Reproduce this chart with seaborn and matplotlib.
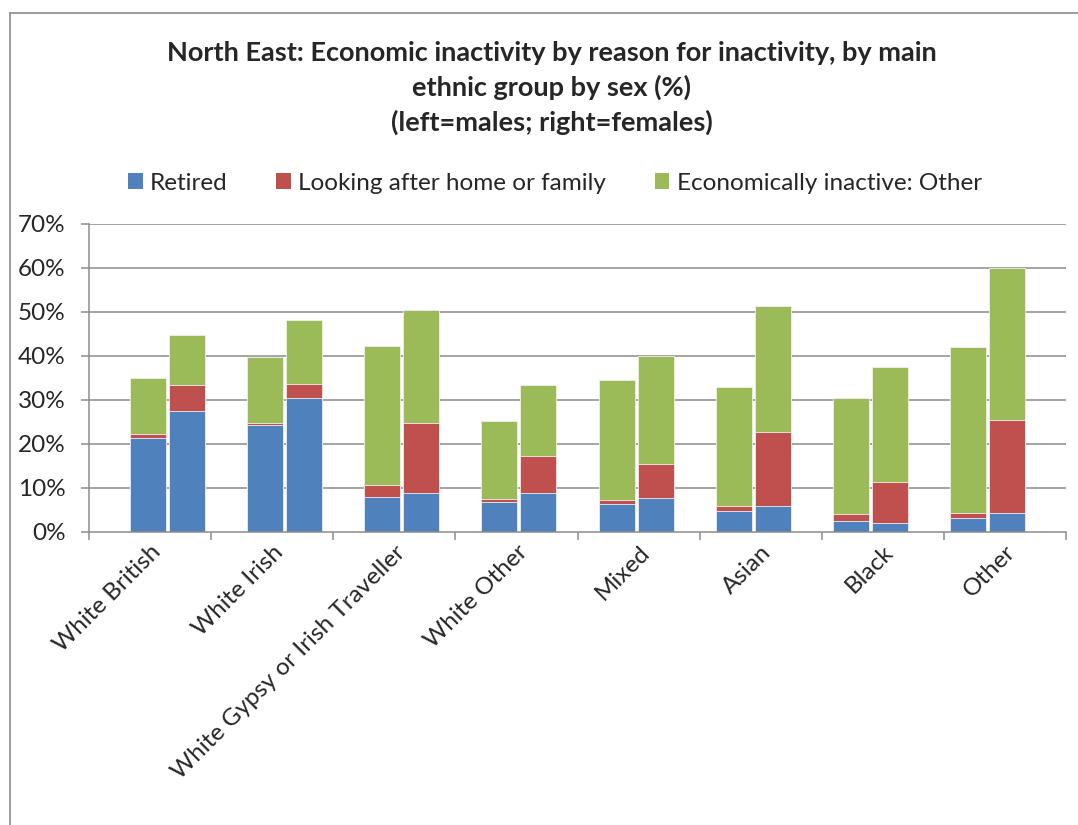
import numpy as np
import pandas as pd
import matplotlib
matplotlib.use("Agg")
import matplotlib.pyplot as plt
from matplotlib.patches import Patch
from matplotlib.lines import Line2D
import seaborn as sns

# Ethnic groups (x-axis categories)
groups = ["White British", "White Irish", "White Gypsy or Irish Traveller",
          "White Other", "Mixed", "Asian", "Black", "Other"]

# Percentages of the population economically inactive, by reason
retired_male = [21.2, 24.2, 8.0, 6.7, 6.2, 4.8, 2.4, 3.1]
retired_female = [27.5, 30.3, 8.9, 8.8, 7.7, 5.9, 2.0, 4.3]
looking_male = [0.9, 0.6, 2.7, 0.7, 0.9, 1.0, 1.6, 1.2]
looking_female = [5.8, 3.3, 15.7, 8.3, 7.7, 16.8, 9.2, 21.1]
other_male = [12.8, 15.0, 31.6, 17.8, 27.4, 27.2, 26.4, 37.7]
other_female = [11.4, 14.5, 25.9, 16.2, 24.6, 28.6, 26.2, 34.6]

series_names = ["Retired", "Looking after home or family",
                "Economically inactive: Other"]
colors = ["#4F81BD", "#C0504D", "#9BBB59"]

title = ("North East: Economic inactivity by reason for inactivity, by main\n"
         "ethnic group by sex (%)\n(left=males; right=females)")

# Each group occupies three slots: a spacer, the male bar, the female bar,
# with one trailing spacer at the end of the axis.
n = len(groups)
n_slots = 3 * n + 1
rows = []
for i in range(n):
    for sex, slot, r, l, o in (
        ("Male", 3 * i + 1, retired_male[i], looking_male[i], other_male[i]),
        ("Female", 3 * i + 2, retired_female[i], looking_female[i], other_female[i]),
    ):
        rows.append({"pos": slot + 0.5, "group": groups[i], "sex": sex,
                     "retired": r, "looking": l, "other": o})
df = pd.DataFrame(rows)
df["top_retired"] = df["retired"]
df["top_looking"] = df["retired"] + df["looking"]
df["top_other"] = df["retired"] + df["looking"] + df["other"]

sns.set_theme(style="white")
plt.rcParams["font.family"] = ["Lato", "DejaVu Sans"]

fig = plt.figure(figsize=(10.78, 8.25), dpi=100)
ax = fig.add_axes([89 / 1078, 1 - 531.7 / 825, (1066 - 89) / 1078, 308 / 825])

grid_color = "#8C8C8C"
for y in range(10, 80, 10):
    ax.axhline(y, color=grid_color, lw=1.1, zorder=0)

# Stacked columns drawn as overlapping cumulative totals
for col, color in zip(["top_other", "top_looking", "top_retired"],
                      colors[::-1]):
    sns.barplot(data=df, x="pos", y=col, native_scale=True, width=0.92,
                color=color, saturation=1, errorbar=None,
                edgecolor="#f0f0f0", linewidth=0.6, ax=ax, zorder=2)

ax.set_xlim(0, n_slots)
ax.set_ylim(0, 70)
ax.set_yticks(np.arange(0, 80, 10))
ax.set_yticklabels([f"{v}%" for v in range(0, 80, 10)], fontsize=17.5)

step = n_slots / n
ax.set_xticks(np.arange(n + 1) * step)
ax.set_xticklabels([])
ax.set_xticks((np.arange(n) + 0.5) * step, minor=True)
ax.set_xticklabels(groups, minor=True, rotation=45, ha="right",
                   rotation_mode="anchor", fontsize=17.5)
ax.tick_params(axis="x", which="major", length=6, width=1.1,
               color=grid_color, direction="out", bottom=True)
ax.tick_params(axis="x", which="minor", length=0, pad=7)
ax.tick_params(axis="y", length=6, width=1.1, color=grid_color,
               direction="out", left=True, pad=11)
ax.set_xlabel("")
ax.set_ylabel("")

for side in ("top", "right"):
    ax.spines[side].set_visible(False)
for side in ("left", "bottom"):
    ax.spines[side].set_color(grid_color)
    ax.spines[side].set_linewidth(1.1)

fig.text(552 / 1078, 1 - 88 / 825, title, ha="center", va="center",
         fontsize=19.5, fontweight="bold", linespacing=1.45)

handles = [Patch(facecolor=c, edgecolor="none") for c in colors]
fig.legend(handles, series_names, loc="center", ncol=3,
           bbox_to_anchor=(555 / 1078, 1 - 183 / 825), frameon=False,
           fontsize=17.5, handlelength=0.6, handleheight=0.6,
           handletextpad=0.3, columnspacing=2.0)

# Chart-area border (left and top edges)
fig.add_artist(Line2D([10 / 1078, 10 / 1078], [0, 1 - 13 / 825],
                      transform=fig.transFigure, color=grid_color, lw=1.2))
fig.add_artist(Line2D([10 / 1078, 1], [1 - 13 / 825, 1 - 13 / 825],
                      transform=fig.transFigure, color=grid_color, lw=1.2))

fig.savefig("out.png", dpi=100, facecolor="white")
